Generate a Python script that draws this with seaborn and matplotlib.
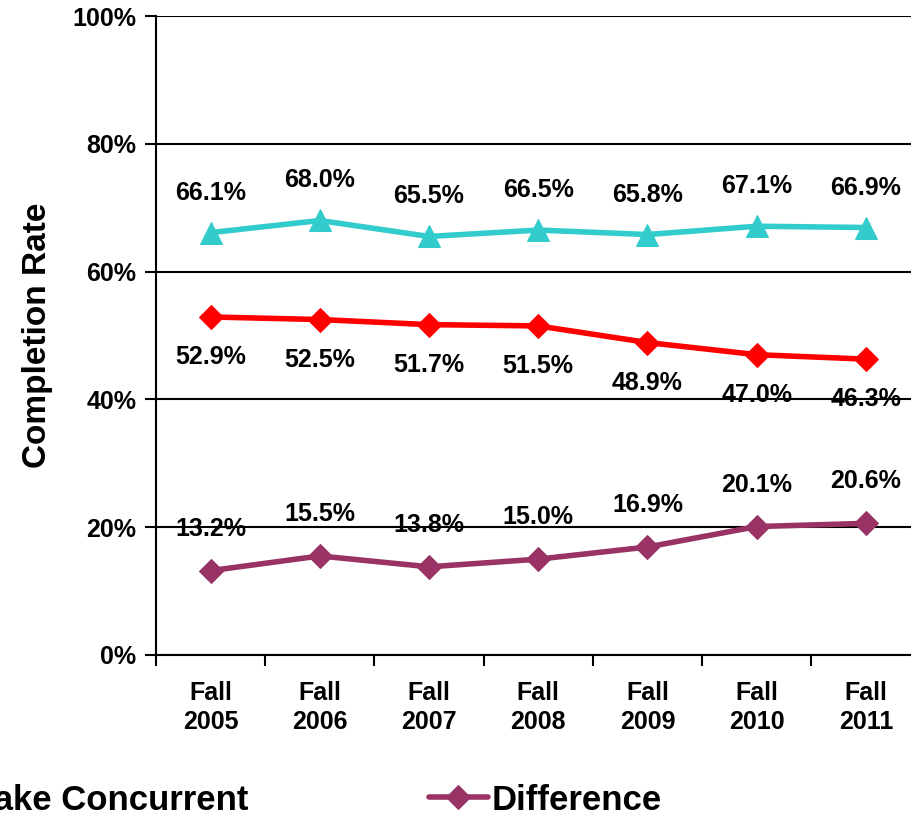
import matplotlib
matplotlib.use("Agg")
import matplotlib.pyplot as plt
import matplotlib.ticker as mticker
import seaborn as sns
import pandas as pd
import numpy as np

categories = ["Fall\n2005", "Fall\n2006", "Fall\n2007", "Fall\n2008", "Fall\n2009", "Fall\n2010", "Fall\n2011"]
took_concurrent = [66.1, 68.0, 65.5, 66.5, 65.8, 67.1, 66.9]
did_not_take = [52.9, 52.5, 51.7, 51.5, 48.9, 47.0, 46.3]
difference = [13.2, 15.5, 13.8, 15.0, 16.9, 20.1, 20.6]
series_names = ["Took Concurrent", "Did Not Take Concurrent", "Difference"]
y_ticks = [0, 20, 40, 60, 80, 100]

sns.set_theme(style="white")
plt.rcParams["font.family"] = ["Liberation Sans", "DejaVu Sans"]
plt.rcParams["font.weight"] = "bold"
plt.rcParams["text.color"] = "black"
plt.rcParams["axes.labelcolor"] = "black"
plt.rcParams["xtick.color"] = "black"
plt.rcParams["ytick.color"] = "black"

fig = plt.figure(figsize=(9.11, 8.14), dpi=100)
ax = fig.add_axes([156 / 911, 159 / 814, 764.5 / 911, 639 / 814])

series = [
    (took_concurrent, "#33CCCC", "^", 16, 40),
    (did_not_take, "#FF0000", "D", 12, -40),
    (difference, "#993366", "D", 12, 42),
]

x = np.arange(len(categories))
for (vals, color, marker, ms, off), name in zip(series, series_names):
    df = pd.DataFrame({"cat": x, "val": vals})
    sns.lineplot(data=df, x="cat", y="val", ax=ax, color=color, linewidth=4.0,
                 marker=marker, markersize=ms, markeredgecolor=color,
                 label=name, legend=False, zorder=3)
    for xi, v in zip(x, vals):
        ax.annotate(f"{v:.1f}%", (xi, v), xytext=(0, off), textcoords="offset pixels",
                    ha="center", va="center", fontsize=18, fontweight="bold",
                    color="black", zorder=5)

ax.set_xlim(-0.5, len(categories) - 0.5)
ax.set_ylim(0, 100)
ax.set_yticks(y_ticks)
ax.yaxis.set_major_formatter(mticker.FuncFormatter(lambda v, p: f"{v:.0f}%"))
ax.set_xticks(x)
ax.set_xticklabels(categories, fontsize=18, fontweight="bold", linespacing=1.25, color="black")
ax.set_xticks(np.arange(len(categories) + 1) - 0.5, minor=True)
ax.tick_params(axis="x", which="major", length=0, pad=19)
ax.tick_params(axis="x", which="minor", length=8, width=1.5, color="black", direction="out", bottom=True)
ax.tick_params(axis="y", which="major", length=8, width=1.5, color="black", direction="out",
               left=True, labelsize=18, pad=6, labelcolor="black")
for lbl in ax.get_yticklabels():
    lbl.set_fontweight("bold")

ax.set_xlabel("")
ax.set_ylabel("Completion Rate", fontsize=24, fontweight="bold", labelpad=14, color="black")

ax.grid(axis="y", color="black", linewidth=1.5)
ax.grid(axis="x", visible=False)
ax.set_axisbelow(True)
for s in ["top", "right"]:
    ax.spines[s].set_visible(False)
for s in ["left", "bottom"]:
    ax.spines[s].set_color("black")
    ax.spines[s].set_linewidth(1.5)

h, l = ax.get_legend_handles_labels()
leg = fig.legend(h, l, loc="center right", bbox_to_anchor=(662 / 911, 14 / 814), ncol=3,
                 frameon=False, prop={"weight": "bold", "size": 25},
                 handlelength=1.7, handletextpad=0.12, columnspacing=5.2, borderpad=0,
                 borderaxespad=0)
for t in leg.get_texts():
    t.set_color("black")

fig.savefig("out.png", dpi=100)
